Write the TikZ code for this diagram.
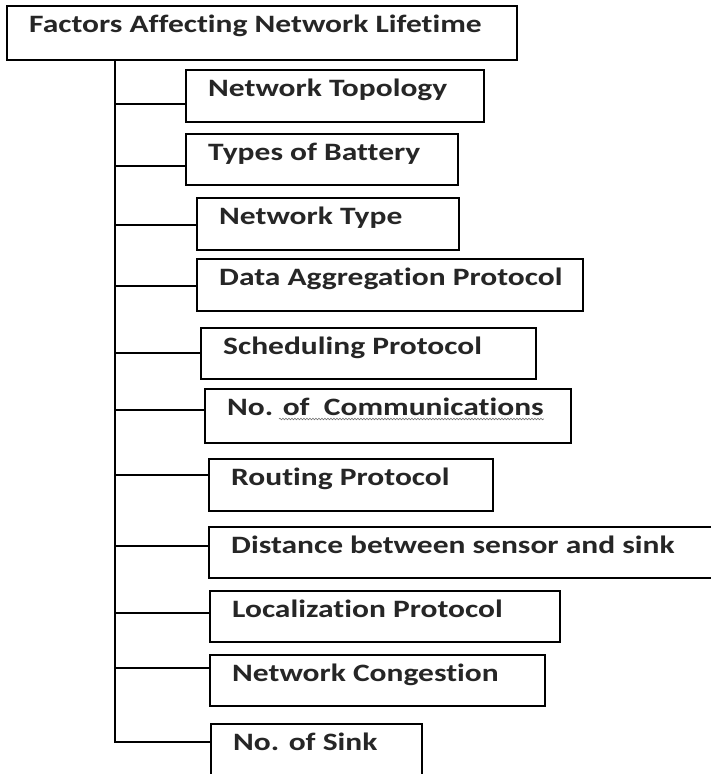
\documentclass[tikz,border=0pt]{standalone}
\usepackage{fontspec}
\setmainfont{Carlito}[FakeStretch=1.26, Ligatures=NoCommon]
\usetikzlibrary{decorations.pathmorphing}

% A factor box: name, left, top, width, height, connector drop, label
\newcommand\factorbox[7]{%
  \node[fbox, minimum width=#4pt, minimum height=#5pt] (#1) at (#2,#3) {};
  \node[ftext] (#1-t) at ([xshift=23pt,yshift=-27pt]#1.north west) {#7};
  \coordinate (#1-in) at ([yshift=-#6pt]#1.north west);
}

\begin{document}
\begin{tikzpicture}[x=1pt,y=-1pt,
  fbox/.style={draw=black, line width=1.5pt, rectangle, inner sep=0pt, anchor=north west, fill=white},
  ftext/.style={anchor=base west, inner sep=0pt, font=\fontsize{25}{28}\selectfont\bfseries, text=black!85},
  link/.style={draw=black, line width=1.5pt},
  squiggle/.style={draw=black!55, line width=0.6pt, decorate,
    decoration={snake, segment length=3pt, amplitude=0.8pt}}]
\useasboundingbox (0,0) rectangle (711,774);

\factorbox{root}{6}{5}{510}{54}{0}{Factors Affecting Network Lifetime}
\factorbox{topo}{185}{69}{298}{52}{35}{Network Topology}
\factorbox{batt}{185}{133}{272}{51}{33}{Types of Battery}
\factorbox{ntype}{196}{197}{262}{52}{28}{Network Type}
\factorbox{agg}{196}{258}{386}{52}{28}{Data Aggregation Protocol}
\factorbox{sched}{200}{327}{335}{51}{26}{Scheduling Protocol}
\factorbox{comm}{204}{388}{366}{54}{22}{No. of\ \ Communications}
\factorbox{route}{208}{458}{284}{52}{17}{Routing Protocol}
\factorbox{dist}{208}{526}{530}{51}{20}{Distance between sensor and sink}
\factorbox{local}{209}{590}{350}{51}{23}{Localization Protocol}
\factorbox{cong}{209}{654}{335}{51}{14}{Network Congestion}
\factorbox{sink}{210}{723}{211}{56}{19}{No. of Sink}

% spell-check underline under the communications label
\draw[squiggle] ([xshift=52pt,yshift=-4pt]comm-t.base west) -- ([yshift=-4pt]comm-t.base east);

% trunk from the root down to the last factor
\coordinate (trunk) at ([xshift=109pt]root.south west);
\draw[link] (trunk) -- (trunk |- sink-in) -- (sink-in);
\foreach \f in {topo,batt,ntype,agg,sched,comm,route,dist,local,cong}
  \draw[link] (trunk |- \f-in) -- (\f-in);
\end{tikzpicture}
\end{document}
